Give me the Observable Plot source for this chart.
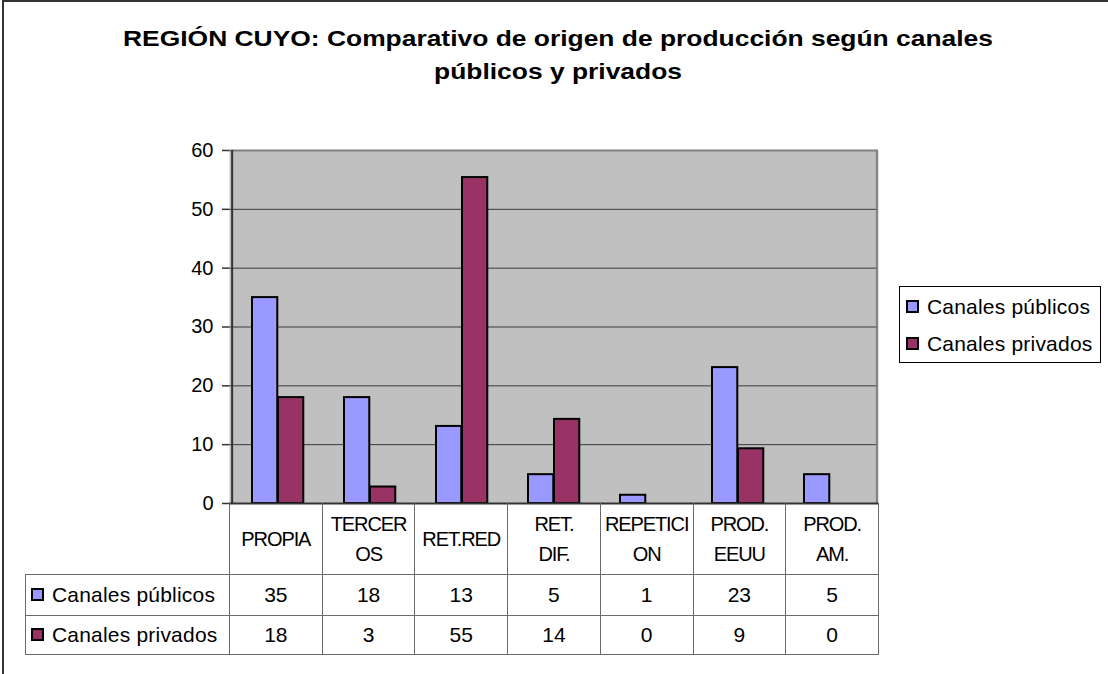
<!DOCTYPE html>
<html>
<head>
<meta charset="utf-8">
<script src="https://cdn.jsdelivr.net/npm/d3@7"></script>
<script src="https://cdn.jsdelivr.net/npm/@observablehq/plot@0.6"></script>
<style>
  html, body { margin: 0; padding: 0; background: #fff; overflow: hidden; }
  body { width: 1108px; height: 674px; position: relative; font-family: "Liberation Sans", Arial, sans-serif; }
  #border { position: absolute; left: 2px; top: 0px; width: 1300px; height: 900px; border-left: 2px solid #333; border-top: 2px solid #333; }
  #title { position: absolute; left: 0; top: 22px; width: 1116px; text-align: center; font-weight: bold; font-size: 22px; line-height: 33px; color: #000; transform: scaleX(1.2); transform-origin: 558px 0; }
  #chart { position: absolute; left: 0; top: 0; }
  #legend { position: absolute; left: 899px; top: 286px; width: 202px; height: 77px; border: 1px solid #000; background: #fff; box-sizing: border-box; }
  .item { position: absolute; left: 6px; height: 24px; line-height: 24px; font-size: 21px; white-space: nowrap; letter-spacing: 0.2px; }
  .key { display: inline-block; width: 9px; height: 9px; border: 2px solid #000; margin-right: 8px; vertical-align: 1px; }
  #table { position: absolute; left: 25px; top: 503px; border-collapse: collapse; table-layout: fixed; font-size: 21px; color: #000; }
  #table td { border: 1px solid #6a6a6a; text-align: center; vertical-align: middle; padding: 0; white-space: nowrap; overflow: hidden; }
  #table tr.head td { height: 71px; font-size: 20px; line-height: 30px; letter-spacing: -1.1px; border-top: none; }
  #table tr.head td.corner { border: none; border-right: 1px solid #6a6a6a; }
  #table tr.r1 td { height: 40px; }
  #table tr.r2 td { height: 38px; }
  #table td.lab { text-align: left; padding-left: 5px; letter-spacing: 0.2px; }
</style>
</head>
<body>
<div id="border"></div>
<div id="title">REGIÓN CUYO: Comparativo de origen de producción según canales<br>públicos y privados</div>
<div id="chart"></div>
<div id="legend"></div>
<table id="table"></table>
<script>
// ---- Data ----
const categories = ["PROPIA", "TERCEROS", "RET.RED", "RET. DIF.", "REPETICION", "PROD. EEUU", "PROD. AM."];
const categoryLines = [["PROPIA"], ["TERCER", "OS"], ["RET.RED"], ["RET.", "DIF."], ["REPETICI", "ON"], ["PROD.", "EEUU"], ["PROD.", "AM."]];
const seriesNames = ["Canales públicos", "Canales privados"];
const publicos = [35, 18, 13.1, 4.9, 1.4, 23.1, 4.9];
const privados = [18, 2.8, 55.4, 14.3, 0, 9.3, 0];
const seriesColors = ["#9999FF", "#993366"];
const yTicks = [0, 10, 20, 30, 40, 50, 60];

// ---- Chart ----
const width = 1108, height = 674;
const marginLeft = 229, marginRight = 230, marginTop = 150, marginBottom = 171;
const bw = (width - marginLeft - marginRight) / categories.length;
const barW = 26, gapL = 20;

const pubRows = categories.map((c, i) => ({cat: c, value: publicos[i]})).filter(d => d.value > 0);
const privRows = categories.map((c, i) => ({cat: c, value: privados[i]})).filter(d => d.value > 0);

const chart = Plot.plot({
  width, height, marginLeft, marginRight, marginTop, marginBottom,
  style: {fontFamily: "'Liberation Sans', Arial, sans-serif", fontSize: "20px", color: "#000", background: "transparent", overflow: "visible"},
  x: {domain: categories, padding: 0, axis: null},
  y: {domain: [0, 60], axis: null},
  marks: [
    Plot.frame({fill: "#C0C0C0"}),
    Plot.ruleY(yTicks.filter(t => t > 0 && t < 60), {stroke: "#3a3a3a", strokeWidth: 1}),
    Plot.barY(pubRows, {x: "cat", y: "value", fill: seriesColors[0], stroke: "#000", strokeWidth: 2, insetLeft: gapL, insetRight: bw - gapL - barW}),
    Plot.barY(privRows, {x: "cat", y: "value", fill: seriesColors[1], stroke: "#000", strokeWidth: 2, insetLeft: gapL + barW, insetRight: bw - gapL - 2 * barW}),
    Plot.ruleY([60], {stroke: "#808080", strokeWidth: 2}),
    Plot.ruleX([categories[categories.length - 1]], {stroke: "#808080", strokeWidth: 2, dx: bw / 2}),
    Plot.ruleX([categories[0]], {stroke: "#333", strokeWidth: 2, dx: -bw / 2}),
    Plot.ruleY([0], {stroke: "#333", strokeWidth: 2}),
    Plot.axisY({ticks: yTicks, tickSize: 7, tickPadding: 9, tickFormat: d => String(d), label: null, stroke: "#333", strokeWidth: 1.5})
  ]
});
document.getElementById("chart").appendChild(chart);

// ---- Legend ----
const legend = document.getElementById("legend");
seriesNames.forEach((name, i) => {
  const it = document.createElement("div");
  it.className = "item";
  it.style.top = (8 + i * 37) + "px";
  const k = document.createElement("span");
  k.className = "key";
  k.style.background = seriesColors[i];
  it.appendChild(k);
  it.appendChild(document.createTextNode(name));
  legend.appendChild(it);
});

// ---- Data table ----
const table = document.getElementById("table");
const colgroup = document.createElement("colgroup");
const c0 = document.createElement("col"); c0.style.width = "204px"; colgroup.appendChild(c0);
categories.forEach(() => { const c = document.createElement("col"); c.style.width = bw + "px"; colgroup.appendChild(c); });
table.appendChild(colgroup);
table.style.width = (204 + bw * categories.length) + "px";

const head = document.createElement("tr"); head.className = "head";
const corner = document.createElement("td"); corner.className = "corner"; head.appendChild(corner);
categoryLines.forEach(lines => {
  const td = document.createElement("td");
  lines.forEach((l, j) => { if (j) td.appendChild(document.createElement("br")); td.appendChild(document.createTextNode(l)); });
  head.appendChild(td);
});
table.appendChild(head);

[publicos, privados].forEach((vals, s) => {
  const tr = document.createElement("tr"); tr.className = s === 0 ? "r1" : "r2";
  const lab = document.createElement("td"); lab.className = "lab";
  const k = document.createElement("span"); k.className = "key"; k.style.background = seriesColors[s];
  lab.appendChild(k); lab.appendChild(document.createTextNode(seriesNames[s]));
  tr.appendChild(lab);
  vals.forEach(v => { const td = document.createElement("td"); td.textContent = String(Math.round(v)); tr.appendChild(td); });
  table.appendChild(tr);
});
</script>
</body>
</html>
